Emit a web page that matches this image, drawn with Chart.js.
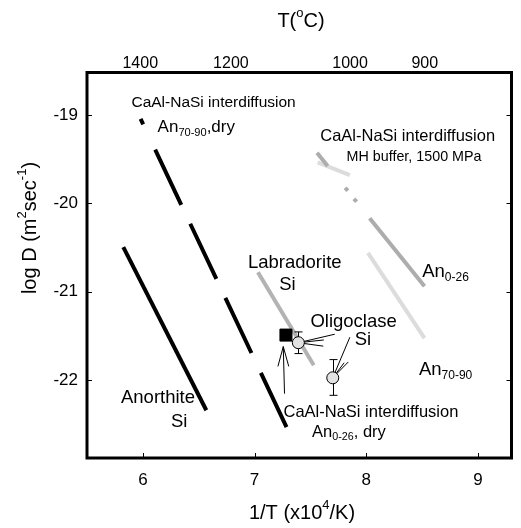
<!DOCTYPE html>
<html>
<head>
<meta charset="utf-8">
<script src="https://cdn.jsdelivr.net/npm/chart.js@4/dist/chart.umd.min.js"></script>
<style>
  html, body { margin: 0; padding: 0; background: #fff; }
  #wrap { width: 521px; height: 528px; }
</style>
</head>
<body>
<div id="wrap"><canvas id="c" width="521" height="528"></canvas></div>
<script>
// Arrhenius plot: log D versus reciprocal temperature
const xTicks = [6, 7, 8, 9];                 // 1/T (x10^4/K)
const yTicks = [-22, -21, -20, -19];         // log D
const topTempC = [1400, 1200, 1000, 900];    // T (°C) on the upper axis

// Arrhenius lines, [1/T, log D]
const anorthiteSi    = [[5.825, -20.495], [6.568, -22.34]];
const an7090Dry      = [[5.98, -19.045], [7.286, -22.53]];
const labradoriteSi  = [[7.03, -20.78], [7.53, -21.83]];
const an026MH        = [[7.559, -19.427], [8.521, -20.937]];
const an7090MH       = [[7.565, -19.536], [7.853, -19.68], null, [8.015, -20.559], [8.521, -21.525]];

// Measured points
const an026DryPoint  = [[7.281, -21.49]];
const oligoclaseSi   = [[7.392, -21.576], [7.70, -21.973]];
const oligoclaseErr  = [[-21.454, -21.699], [-21.767, -22.171]];   // [upper, lower]

// Leader lines from the labels to the points
const oligoclaseLeaders = [
  [[7.392, -21.576], [7.718, -21.48]],
  [[7.392, -21.576], [7.62, -21.545]],
  [[7.392, -21.576], [7.615, -21.615]],
  [[7.70, -21.973], [7.853, -21.514]],
  [[7.70, -21.973], [7.839, -21.794]],
  [[7.70, -21.973], [7.802, -21.803]]
];
const dryArrow = [
  [[7.268, -22.152], [7.257, -21.62]],
  [[7.209, -21.844], [7.257, -21.62]],
  [[7.306, -21.844], [7.257, -21.62]]
];

// Text labels: left x, middle y (data units), pieces [text, 'sup'|'sub'|''], size
const textLabels = [
  { x: 5.898, y: -18.867, size: 15.5, parts: [['CaAl-NaSi interdiffusion', '']] },
  { x: 6.132, y: -19.144, size: 17,   parts: [['An', ''], ['70-90', 'sub'], [',dry', '']] },
  { x: 7.588, y: -19.238, size: 16.5, parts: [['CaAl-NaSi interdiffusion', '']] },
  { x: 7.824, y: -19.472, size: 14.3, parts: [['MH buffer, 1500 MPa', '']] },
  { x: 8.501, y: -20.775, size: 18.5, parts: [['An', ''], ['0-26', 'sub']] },
  { x: 6.941, y: -20.673, size: 18.5, parts: [['Labradorite', '']] },
  { x: 7.221, y: -20.925, size: 18.5, parts: [['Si', '']] },
  { x: 7.50,  y: -21.341, size: 18.5, parts: [['Oligoclase', '']] },
  { x: 7.897, y: -21.54,  size: 18.5, parts: [['Si', '']] },
  { x: 8.471, y: -21.888, size: 18.5, parts: [['An', ''], ['70-90', 'sub']] },
  { x: 7.259, y: -22.36,  size: 16.5, parts: [['CaAl-NaSi interdiffusion', '']] },
  { x: 7.515, y: -22.587, size: 16.5, parts: [['An', ''], ['0-26', 'sub'], [', dry', '']] },
  { x: 5.804, y: -22.205, size: 18.5, parts: [['Anorthite', '']] },
  { x: 6.251, y: -22.473, size: 18.5, parts: [['Si', '']] }
];

const FONT = "'Liberation Sans', Arial, Helvetica, sans-serif";
const invT = c => 1e4 / (c + 273.15);
const pts = arr => {
  const out = [];
  let lastX = 0;
  arr.forEach(p => {
    if (p) { out.push({ x: p[0], y: p[1] }); lastX = p[0]; }
    else out.push({ x: lastX, y: null });
  });
  return out;
};
const segs = list => {
  const out = [];
  list.forEach((s, i) => {
    if (i > 0) out.push({ x: s[0][0], y: null });
    s.forEach(p => out.push({ x: p[0], y: p[1] }));
  });
  return out;
};

function richWidth(ctx, parts, size) {
  let w = 0;
  parts.forEach(([t, k]) => {
    ctx.font = (k ? size * 0.65 : size) + 'px ' + FONT;
    w += ctx.measureText(t).width;
  });
  return w;
}
function drawRich(ctx, parts, x, y, size, align) {
  ctx.save();
  ctx.fillStyle = '#000';
  ctx.textBaseline = 'middle';
  ctx.textAlign = 'left';
  let cx = x;
  if (align === 'center') cx = x - richWidth(ctx, parts, size) / 2;
  parts.forEach(([t, k]) => {
    const s = k ? size * 0.65 : size;
    ctx.font = s + 'px ' + FONT;
    let dy = 0;
    if (k === 'sup') dy = -size * 0.38;
    if (k === 'sub') dy = size * 0.3;
    ctx.fillText(t, cx, y + dy);
    cx += ctx.measureText(t).width;
  });
  ctx.restore();
}

const decor = {
  id: 'decor',
  beforeDatasetDraw(chart, args) {
    // error bars sit under the open circles
    if (chart.data.datasets[args.index].label !== 'Oligoclase Si') return;
    const { ctx } = chart;
    const xs = chart.scales.x, ys = chart.scales.y;
    ctx.save();
    ctx.strokeStyle = '#000';
    ctx.lineWidth = 1;
    oligoclaseSi.forEach((p, i) => {
      const px = Math.round(xs.getPixelForValue(p[0])) + 0.5;
      const top = ys.getPixelForValue(oligoclaseErr[i][0]);
      const bot = ys.getPixelForValue(oligoclaseErr[i][1]);
      ctx.beginPath();
      ctx.moveTo(px, top); ctx.lineTo(px, bot);
      ctx.moveTo(px - 4, top); ctx.lineTo(px + 4, top);
      ctx.moveTo(px - 4, bot); ctx.lineTo(px + 4, bot);
      ctx.stroke();
    });
    ctx.restore();
  },
  afterDraw(chart) {
    const { ctx, chartArea: a } = chart;
    const xs = chart.scales.x, ys = chart.scales.y;
    ctx.save();
    // inward ticks
    ctx.strokeStyle = '#000';
    ctx.lineWidth = 1;
    ctx.beginPath();
    xTicks.forEach(v => {
      const px = Math.round(xs.getPixelForValue(v)) + 0.5;
      ctx.moveTo(px, a.bottom); ctx.lineTo(px, a.bottom - 5);
    });
    yTicks.forEach(v => {
      const py = Math.round(ys.getPixelForValue(v)) + 0.5;
      ctx.moveTo(a.left, py); ctx.lineTo(a.left + 5, py);
      ctx.moveTo(a.right, py); ctx.lineTo(a.right - 5, py);
    });
    ctx.stroke();
    // frame
    ctx.lineWidth = 3;
    ctx.strokeRect(a.left, a.top, a.right - a.left, a.bottom - a.top);
    ctx.restore();

    // labels inside the plot
    textLabels.forEach(l => {
      drawRich(ctx, l.parts, xs.getPixelForValue(l.x), ys.getPixelForValue(l.y), l.size, 'left');
    });

    // axis titles
    drawRich(ctx, [['T(', ''], ['o', 'sup'], ['C)', '']], 301, 21, 20, 'center');
    drawRich(ctx, [['1/T (x10', ''], ['4', 'sup'], ['/K)', '']], 302, 513, 20, 'center');
    ctx.save();
    ctx.translate(30, 228);
    ctx.rotate(-Math.PI / 2);
    drawRich(ctx, [['log D (m', ''], ['2', 'sup'], ['sec', ''], ['-1', 'sup'], [')', '']], 0, 0, 20, 'center');
    ctx.restore();
  }
};

const tickFont = { family: FONT, size: 17 };

new Chart(document.getElementById('c'), {
  type: 'scatter',
  data: {
    datasets: [
      { label: 'Anorthite Si', data: pts(anorthiteSi), showLine: true, borderColor: '#000', borderWidth: 4, pointRadius: 0, order: 10 },
      { label: 'An70-90 dry', data: pts(an7090Dry), showLine: true, borderColor: '#000', borderWidth: 4, pointRadius: 0, order: 10,
        borderDash: [6, 28, 61, 21, 61, 21, 61, 22, 62] },
      { label: 'Labradorite Si', data: pts(labradoriteSi), showLine: true, borderColor: '#b3b3b3', borderWidth: 4, pointRadius: 0, order: 10 },
      { label: 'An0-26 MH', data: pts(an026MH), showLine: true, borderColor: '#adadad', borderWidth: 4, pointRadius: 0, order: 10,
        borderDash: [17, 28, 4, 10, 4, 21, 92] },
      { label: 'An70-90 MH', data: pts(an7090MH), showLine: true, borderColor: '#dcdcdc', borderWidth: 4, pointRadius: 0, order: 10, spanGaps: false },
      { label: 'leaders', data: segs(oligoclaseLeaders), showLine: true, borderColor: '#000', borderWidth: 1, pointRadius: 0, order: 6, spanGaps: false },
      { label: 'arrow', data: segs(dryArrow), showLine: true, borderColor: '#000', borderWidth: 1, pointRadius: 0, order: 6, spanGaps: false },
      { label: 'Oligoclase Si', data: pts(oligoclaseSi), pointStyle: 'circle', pointRadius: 6, backgroundColor: '#e2e2e2', borderColor: '#000', borderWidth: 1, order: 2 },
      { label: 'An0-26 dry', data: pts(an026DryPoint), pointStyle: 'rect', pointRadius: 8.5, backgroundColor: '#000', borderColor: '#000', borderWidth: 1, order: 2 }
    ]
  },
  options: {
    responsive: false,
    devicePixelRatio: 1,
    animation: false,
    events: [],
    layout: { padding: { left: 0, right: 4.5, top: 0, bottom: 0 } },
    plugins: { legend: { display: false }, tooltip: { enabled: false } },
    scales: {
      x: {
        type: 'linear', position: 'bottom', min: 5.5, max: 9.3,
        afterBuildTicks: s => { s.ticks = xTicks.map(v => ({ value: v })); },
        afterFit: s => { s.height = 70; },
        grid: { display: false, drawTicks: false },
        border: { display: false },
        ticks: { font: tickFont, color: '#000', padding: 12, maxRotation: 0, autoSkip: false }
      },
      x2: {
        type: 'linear', position: 'top', min: 5.5, max: 9.3,
        afterBuildTicks: s => { s.ticks = topTempC.map(c => ({ value: invT(c) })); },
        afterFit: s => { s.height = 72.5; },
        grid: { display: false, drawTicks: false },
        border: { display: false },
        ticks: { font: { family: FONT, size: 16 }, color: '#000', padding: -1, maxRotation: 0, autoSkip: false,
                 callback: (v, i) => String(topTempC[i]) }
      },
      y: {
        type: 'linear', position: 'left', min: -22.88, max: -18.52,
        afterBuildTicks: s => { s.ticks = yTicks.map(v => ({ value: v })); },
        afterFit: s => { s.width = 87; },
        grid: { display: false, drawTicks: false },
        border: { display: false },
        ticks: { font: tickFont, color: '#000', padding: 9, autoSkip: false }
      }
    }
  },
  plugins: [decor]
});
</script>
</body>
</html>
